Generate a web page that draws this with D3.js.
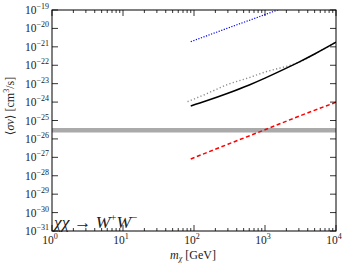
<!DOCTYPE html>
<html>
<head>
<meta charset="utf-8">
<script src="https://cdn.jsdelivr.net/npm/d3@7"></script>
<style>
  body { margin: 0; background: #fff; }
  text { font-family: "Liberation Serif", "DejaVu Serif", serif; }
</style>
</head>
<body>
<div id="plot_div"></div>
<script>
const width  = 349;
const height = 267;
var margin = {top: 10, right: 13, bottom: 36, left: 52}

// mass points (GeV) and log10 <sigma v> (cm^3/s)
const mass_blue  = [90, 300, 1000, 2000]
const sv_blue    = [-20.72, -19.98, -19.25, -18.82]

const mass_black = [90, 150, 300, 600, 1000, 2000, 3000, 5000, 10000]
const sv_black   = [-24.21, -23.93, -23.52, -23.07, -22.70, -22.16, -21.83, -21.39, -20.75]

const mass_gray  = [81, 150, 300, 600, 1000, 2000, 2800, 5000, 10000]
const sv_gray    = [-23.98, -23.55, -23.04, -22.67, -22.37, -22.06, -21.89, -21.39, -20.75]

const mass_red   = [90, 300, 1000, 3000, 10000]
const sv_red     = [-27.09, -26.29, -25.50, -24.77, -24.01]

// thermal relic line
const relic_sv = 3e-26

const xTicks = [0, 1, 2, 3, 4]
const yTicks = [-31, -30, -29, -28, -27, -26, -25, -24, -23, -22, -21, -20, -19]

const svg = d3.create("svg")
      .attr("width", width)
      .attr("height", height)
      .attr("viewBox", [0, 0, width, height])

const x = d3.scaleLog()
      .domain([1, 1e4])
      .range([margin.left, width - margin.right])

const y = d3.scaleLinear()   // in log10 units
      .domain([-31, -19])
      .range([height - margin.bottom, margin.top])

svg.append("defs").append("clipPath").attr("id", "clip")
    .append("rect")
    .attr("x", margin.left).attr("y", margin.top)
    .attr("width", width - margin.left - margin.right)
    .attr("height", height - margin.top - margin.bottom)

const plot = svg.append("g").attr("clip-path", "url(#clip)")

// relic band
plot.append("line")
    .attr("x1", x(1)).attr("x2", x(1e4))
    .attr("y1", y(Math.log10(relic_sv))).attr("y2", y(Math.log10(relic_sv)))
    .attr("stroke", "#aaaaaa")
    .attr("stroke-width", 4.5)

const line = d3.line()
      .x(d => x(d[0]))
      .y(d => y(d[1]))
      .curve(d3.curveMonotoneX)

function draw_curve(ms, ss, color, width, dash){
    plot.append("path")
        .datum(ms.map((m, i) => [m, ss[i]]))
        .attr("fill", "none")
        .attr("stroke", color)
        .attr("stroke-width", width)
        .attr("stroke-dasharray", dash)
        .attr("d", line)
}

draw_curve(mass_gray,  sv_gray,  "#8a8a8a", 1.4, "1.2,2.3")
draw_curve(mass_black, sv_black, "#000000", 1.5, null)
draw_curve(mass_blue,  sv_blue,  "#0000ff", 1.2, "1.2,1.5")
draw_curve(mass_red,   sv_red,   "#ff0000", 1.5, "4,2.6")

// frame
svg.append("rect")
    .attr("x", margin.left).attr("y", margin.top)
    .attr("width", width - margin.left - margin.right)
    .attr("height", height - margin.top - margin.bottom)
    .attr("fill", "none")
    .attr("stroke", "#000")
    .attr("stroke-width", 1)

const yb = height - margin.bottom
const xr = width - margin.right

// x ticks, major + minor, top and bottom, inward
const minor = []
for (let e = 0; e < 4; e++) for (let k = 2; k < 10; k++) minor.push(k * 10 ** e)
const ticks = svg.append("g").attr("stroke", "#000").attr("stroke-width", 0.8)
xTicks.forEach(e => {
    ticks.append("line").attr("x1", x(10 ** e)).attr("x2", x(10 ** e)).attr("y1", yb).attr("y2", yb - 6)
    ticks.append("line").attr("x1", x(10 ** e)).attr("x2", x(10 ** e)).attr("y1", margin.top).attr("y2", margin.top + 6)
})
minor.forEach(m => {
    ticks.append("line").attr("x1", x(m)).attr("x2", x(m)).attr("y1", yb).attr("y2", yb - 3)
    ticks.append("line").attr("x1", x(m)).attr("x2", x(m)).attr("y1", margin.top).attr("y2", margin.top + 3)
})
yTicks.forEach(e => {
    ticks.append("line").attr("x1", margin.left).attr("x2", margin.left + 6).attr("y1", y(e)).attr("y2", y(e))
    ticks.append("line").attr("x1", xr).attr("x2", xr - 6).attr("y1", y(e)).attr("y2", y(e))
})

// x tick labels
xTicks.forEach(e => {
    const t = svg.append("text")
        .attr("x", x(10 ** e) - 2).attr("y", yb + 13)
        .attr("text-anchor", "middle")
        .attr("font-size", 11.5)
        .attr("fill", "#222")
    t.append("tspan").text("10")
    t.append("tspan").attr("dy", -5).attr("font-size", 8).text(e)
})

// y tick labels
yTicks.forEach(e => {
    const t = svg.append("text")
        .attr("x", margin.left - 3).attr("y", y(e) + 4)
        .attr("text-anchor", "end")
        .attr("font-size", 11.5)
        .attr("fill", "#222")
    t.append("tspan").text("10")
    t.append("tspan").attr("dy", -5).attr("font-size", 8).text("\u2212" + (-e))
})

// axis titles
const xl = svg.append("text")
    .attr("x", 193).attr("y", 259)
    .attr("text-anchor", "middle")
    .attr("font-size", 12)
    .attr("fill", "#222")
xl.append("tspan").attr("font-style", "italic").text("m")
xl.append("tspan").attr("font-style", "italic").attr("font-size", 8).attr("dy", 2).text("\u03c7")
xl.append("tspan").attr("dy", -2).text(" [GeV]")

const yl = svg.append("text")
    .attr("transform", "translate(14,106) rotate(-90)")
    .attr("text-anchor", "middle")
    .attr("font-size", 12)
    .attr("fill", "#222")
yl.append("tspan").text("\u27e8")
yl.append("tspan").attr("font-style", "italic").text("\u03c3v")
yl.append("tspan").text("\u27e9 [cm")
yl.append("tspan").attr("dy", -5).attr("font-size", 8).text("3")
yl.append("tspan").attr("dy", 5).text("/s]")

// channel label
const cl = svg.append("text")
    .attr("x", 54).attr("y", 228)
    .attr("font-size", 17.5)
    .attr("fill", "#222")
cl.append("tspan").attr("font-style", "italic").text("\u03c7\u03c7")
cl.append("tspan").text(" \u2192 ")
cl.append("tspan").attr("font-style", "italic").text("W")
cl.append("tspan").attr("dy", -7).attr("font-size", 11).text("+")
cl.append("tspan").attr("dy", 7).attr("font-style", "italic").text("W")
cl.append("tspan").attr("dy", -7).attr("font-size", 11).text("\u2212")

d3.select("#plot_div").append(() => svg.node());
</script>
</body>
</html>
